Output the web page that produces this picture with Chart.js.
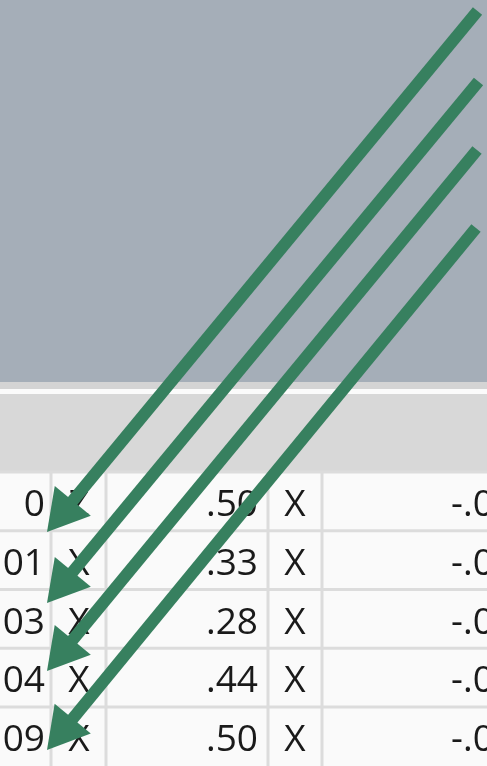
<!DOCTYPE html>
<html>
<head>
<meta charset="utf-8">
<script src="https://cdn.jsdelivr.net/npm/chart.js@4/dist/chart.umd.min.js"></script>
<style>
  html, body { margin: 0; padding: 0; background: #fafafa; }
  #wrap { width: 487px; height: 766px; }
</style>
</head>
<body>
<div id="wrap"><canvas id="myChart" width="487" height="766"></canvas></div>
<script>
// arrows: tail (top right) and tip (bottom left)
const arrowStartX = [477.5, 478.5, 477, 476];
const arrowStartY = [11, 81.5, 150, 228];
const arrowTipX = [47, 47, 47, 47];
const arrowTipY = [532, 603, 671, 750];

// table cells, one array per column
const col0 = ["0", "01", "03", "04", "09"];
const col1 = ["Z", "X", "X", "X", "X"];
const col2 = [".50", ".33", ".28", ".44", ".50"];
const col3 = ["X", "X", "X", "X", "X"];
const col4 = ["-.0", "-.0", "-.0", "-.0", "-.0"];

const green = "#37805f";
const headR = 27;

const ctx = document.getElementById("myChart");

const datasets = arrowStartX.map((sx, i) => {
  const dx = arrowTipX[i] - sx;
  const dy = arrowTipY[i] - arrowStartY[i];
  const len = Math.sqrt(dx * dx + dy * dy);
  // the triangle point is centred, so pull it back from the tip
  const hx = arrowTipX[i] - dx / len * headR;
  const hy = arrowTipY[i] - dy / len * headR;
  return {
    data: [{ x: sx, y: arrowStartY[i] }, { x: hx, y: hy }],
    showLine: true,
    borderColor: green,
    borderWidth: 12,
    borderCapStyle: "butt",
    backgroundColor: green,
    pointStyle: "triangle",
    pointRadius: [0, headR],
    pointBorderWidth: 0,
    pointBackgroundColor: green,
    pointRotation: Math.atan2(dx, -dy) * 180 / Math.PI,
    clip: false,
  };
});

const tablePlugin = {
  id: "table",
  beforeDatasetsDraw(chart) {
    const c = chart.ctx;
    const xs = chart.scales.x;
    const ys = chart.scales.y;
    const px = (v) => xs.getPixelForValue(v);
    const py = (v) => ys.getPixelForValue(v);
    c.save();
    // grey panel on top
    c.fillStyle = "#a5aeb8";
    c.fillRect(px(0), py(0), px(487) - px(0), py(382) - py(0));
    c.fillStyle = "#d4d4d4";
    c.fillRect(px(0), py(382), px(487), py(389) - py(382));
    c.fillStyle = "#fbfbfb";
    c.fillRect(px(0), py(389), px(487), py(394) - py(389));
    c.fillStyle = "#d8d8d8";
    c.fillRect(px(0), py(394), px(487), py(472) - py(394));
    c.fillStyle = "#fafafa";
    c.fillRect(px(0), py(472), px(487), py(766) - py(472));

    // grid
    const rowTop = 472, rowH = 58.75;
    c.strokeStyle = "#dcdcdc";
    c.lineWidth = 3;
    for (let r = 0; r < col0.length; r++) {
      const y = py(rowTop + r * rowH);
      c.beginPath();
      c.moveTo(px(0), y);
      c.lineTo(px(487), y);
      c.stroke();
    }
    [51, 106, 268, 322].forEach((x) => {
      c.beginPath();
      c.moveTo(px(x), py(rowTop));
      c.lineTo(px(x), py(766));
      c.stroke();
    });

    // text
    c.fillStyle = "#1a1a1a";
    c.font = "37px 'Open Sans'";
    c.textBaseline = "alphabetic";
    for (let r = 0; r < col0.length; r++) {
      const base = py(rowTop + r * rowH + 44);
      c.textAlign = "right";
      c.fillText(col0[r], px(45), base);
      c.fillText(col2[r], px(258), base);
      c.textAlign = "center";
      c.fillText(col1[r], px(79), base);
      c.fillText(col3[r], px(295), base);
      c.textAlign = "left";
      c.fillText(col4[r], px(451), base);
    }
    c.restore();
  },
};

const config = {
  type: "scatter",
  data: { datasets: datasets },
  options: {
    responsive: false,
    devicePixelRatio: 1,
    animation: false,
    events: [],
    layout: { padding: 0, autoPadding: false },
    plugins: { legend: { display: false }, tooltip: { enabled: false } },
    scales: {
      x: { type: "linear", min: 0, max: 487, display: false },
      y: { type: "linear", min: 0, max: 766, reverse: true, display: false },
    },
    elements: { point: { hitRadius: 0 } },
  },
  plugins: [tablePlugin],
};

let chart = new Chart(ctx, config);
</script>
</body>
</html>
